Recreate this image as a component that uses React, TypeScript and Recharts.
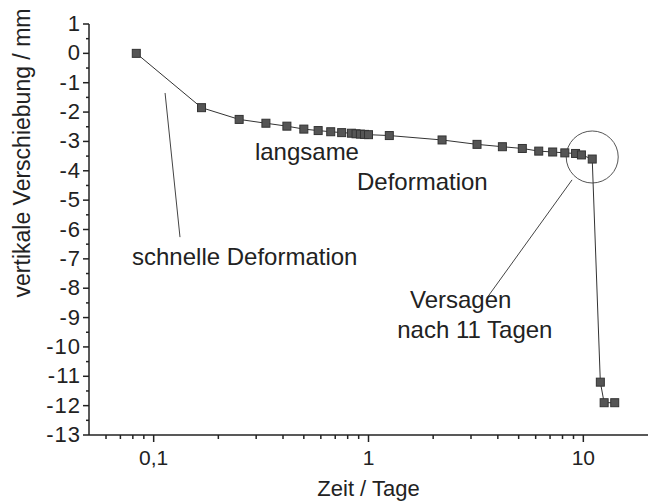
import { ScatterChart, Scatter, XAxis, YAxis, ReferenceDot, ReferenceLine } from "recharts";

// Zeit in Tagen und vertikale Verschiebung in mm
const days = [
  0.083, 0.167, 0.25, 0.333, 0.417, 0.5, 0.583, 0.667, 0.75, 0.833, 0.875, 0.917, 0.958, 1.0,
  1.25, 2.2, 3.2, 4.2, 5.2, 6.2, 7.2, 8.2, 9.2, 9.8, 11.0, 12.0, 12.5, 14.0,
];
const displacement = [
  0, -1.85, -2.25, -2.38, -2.48, -2.58, -2.63, -2.67, -2.7, -2.72, -2.74, -2.75, -2.76, -2.77,
  -2.8, -2.95, -3.1, -3.18, -3.24, -3.33, -3.36, -3.39, -3.41, -3.46, -3.6, -11.2, -11.9, -11.9,
];

const xMajor = [0.1, 1, 10];
const xMajorLabels = ["0,1", "1", "10"];
const xMinor = [0.06, 0.07, 0.08, 0.09, 0.2, 0.3, 0.4, 0.5, 0.6, 0.7, 0.8, 0.9, 2, 3, 4, 5, 6, 7, 8, 9];
const yMajor = [1, 0, -1, -2, -3, -4, -5, -6, -7, -8, -9, -10, -11, -12, -13];
const yMinor = [0.5, -0.5, -1.5, -2.5, -3.5, -4.5, -5.5, -6.5, -7.5, -8.5, -9.5, -10.5, -11.5, -12.5];

// Anmerkungen im Diagramm (Datenkoordinaten)
const notes = [
  { text: "langsame", x: 0.296, y: -3.63 },
  { text: "Deformation", x: 0.884, y: -4.65 },
  { text: "schnelle Deformation", x: 0.0793, y: -7.21 },
  { text: "Versagen", x: 1.56, y: -8.67 },
  { text: "nach 11 Tagen", x: 1.36, y: -9.7 },
];
const pointerFast = [{ x: 0.113, y: -1.35 }, { x: 0.1326, y: -6.26 }];
const pointerFail = [{ x: 8.86, y: -4.31 }, { x: 3.56, y: -8.33 }];
const failure = { x: 11, y: -3.53 };

const data = days.map((d, i) => ({ t: d, v: displacement[i] }));

const FONT = "'Liberation Sans', Arial, sans-serif";
const INK = "#222";

const XTick = (props: any) => {
  const { x, y, payload } = props;
  const idx = xMajor.indexOf(payload.value);
  const major = idx >= 0;
  return (
    <g>
      <line x1={x} y1={y} x2={x} y2={y + (major ? 7 : 4)} stroke={INK} strokeWidth={1.5} />
      {major && (
        <text x={x} y={y + 30} textAnchor="middle" fontSize={21} fontFamily={FONT} fill={INK}>
          {xMajorLabels[idx]}
        </text>
      )}
    </g>
  );
};

const YTick = (props: any) => {
  const { x, y, payload } = props;
  const major = yMajor.includes(payload.value);
  return (
    <g>
      <line x1={x} y1={y} x2={x - (major ? 6 : 3)} y2={y} stroke={INK} strokeWidth={1.5} />
      {major && (
        <text
          x={x - 8}
          y={y + 7}
          textAnchor="end"
          fontSize={22}
          letterSpacing={1}
          fontFamily={FONT}
          fill={INK}
        >
          {payload.value}
        </text>
      )}
    </g>
  );
};

const Square = (props: any) => {
  const { cx, cy } = props;
  return <rect x={cx - 4} y={cy - 4} width={8} height={8} fill="#555" stroke="#333" strokeWidth={1} />;
};

const noteShape = (text: string) => (props: any) => (
  <text x={props.cx} y={props.cy} fontSize={24} fontFamily={FONT} fill={INK}>
    {text}
  </text>
);

export default function App() {
  return (
    <div style={{ position: "absolute", left: 0, top: 0, background: "#fff" }}>
      <ScatterChart width={649} height={502} margin={{ top: 24, right: 1, bottom: 0, left: 0 }}>
        <XAxis
          type="number"
          dataKey="t"
          scale="log"
          domain={[0.05, 20]}
          ticks={[...xMinor, ...xMajor].sort((a, b) => a - b)}
          tick={<XTick />}
          tickSize={0}
          tickMargin={0}
          height={67}
          stroke={INK}
          strokeWidth={1.5}
          allowDataOverflow
          interval={0}
          label={{
            value: "Zeit / Tage",
            position: "insideBottom",
            offset: 6,
            fontSize: 22,
            fontFamily: FONT,
            fill: INK,
          }}
        />
        <YAxis
          type="number"
          dataKey="v"
          domain={[-13, 1]}
          ticks={[...yMajor, ...yMinor].sort((a, b) => a - b)}
          tick={<YTick />}
          tickSize={0}
          tickMargin={0}
          width={89}
          stroke={INK}
          strokeWidth={1.5}
          interval={0}
          label={(p: any) => {
            const vb = p.viewBox || { x: 0, y: 24 };
            const cx = vb.x + 22;
            const cy = vb.y + 129;
            return (
              <text
                x={cx}
                y={cy}
                transform={`rotate(-90 ${cx} ${cy})`}
                textAnchor="middle"
                dominantBaseline="central"
                fontSize={23}
                fontFamily={FONT}
                fill={INK}
              >
                vertikale Verschiebung / mm
              </text>
            );
          }}
        />
        <ReferenceLine segment={pointerFast} stroke="#444" strokeWidth={1} />
        <ReferenceLine segment={pointerFail} stroke="#444" strokeWidth={1} />
        <ReferenceDot x={failure.x} y={failure.y} r={26} fill="none" stroke="#555" strokeWidth={1} />
        {notes.map((n) => (
          <ReferenceDot key={n.text} x={n.x} y={n.y} r={0} shape={noteShape(n.text)} />
        ))}
        <Scatter
          data={data}
          line={{ stroke: "#333", strokeWidth: 1 }}
          shape={<Square />}
          isAnimationActive={false}
        />
      </ScatterChart>
    </div>
  );
}
